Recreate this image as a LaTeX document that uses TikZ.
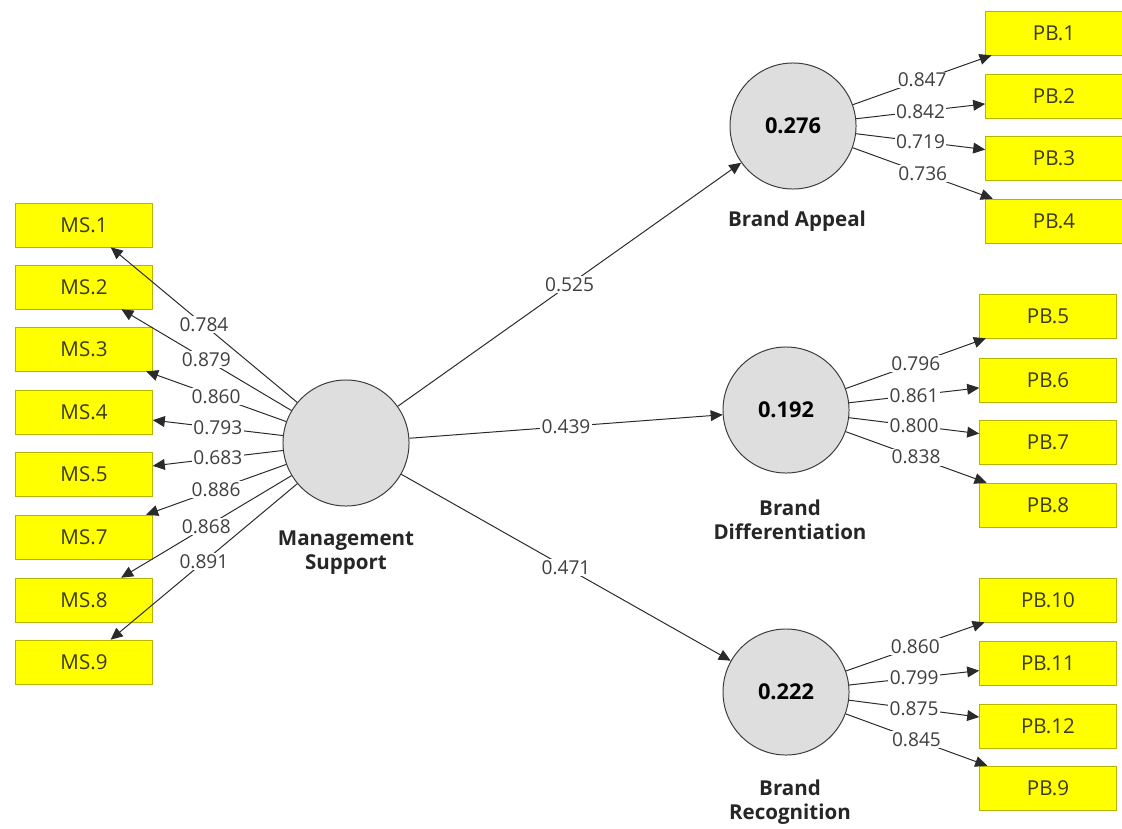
\documentclass[tikz,border=0pt]{standalone}
\usepackage{fontspec}
\setmainfont{Open Sans}
\usepackage{tikz}
\usetikzlibrary{arrows.meta}
\definecolor{boxyellow}{HTML}{FFFF00}
\definecolor{boxline}{HTML}{B5B500}
\definecolor{boxtext}{HTML}{3A3A14}
\definecolor{circlegray}{HTML}{DEDEDE}
\definecolor{circleline}{HTML}{3C3C3C}
\definecolor{linkgray}{HTML}{2A2A2A}
\definecolor{numgray}{HTML}{404040}

\begin{document}
\begin{tikzpicture}[
 x=0.025cm,y=-0.025cm,
 font=\fontsize{13.6}{15}\selectfont,
 indicator/.style={draw=boxline,fill=boxyellow,text=boxtext,minimum width=3.425cm,minimum height=1.1cm,inner sep=0pt,font=\fontsize{14.6}{16}\selectfont},
 construct/.style={circle,draw=circleline,line width=0.7pt,fill=circlegray,minimum size=3.15cm,inner sep=0pt,font=\fontsize{15.5}{17}\selectfont\bfseries},
 lvtitle/.style={align=center,font=\fontsize{14.6}{17}\selectfont\bfseries,text=black!85},
 arr/.style={-{Triangle[length=3mm,width=2.7mm]},draw=linkgray,line width=0.7pt},
 load/.style={fill=white,inner sep=1pt,text=numgray}
]
\path[use as bounding box,fill=white] (0,0) rectangle (1122,828);

% indicators of management support
\node[indicator] (ms1) at (84,225) {MS.1};
\node[indicator] (ms2) at (84,287) {MS.2};
\node[indicator] (ms3) at (84,349) {MS.3};
\node[indicator] (ms4) at (84,412) {MS.4};
\node[indicator] (ms5) at (84,474) {MS.5};
\node[indicator] (ms7) at (84,537) {MS.7};
\node[indicator] (ms8) at (84,600) {MS.8};
\node[indicator] (ms9) at (84,662) {MS.9};

% indicators of the brand constructs
\node[indicator] (pb1) at (1054,33) {PB.1};
\node[indicator] (pb2) at (1054,96) {PB.2};
\node[indicator] (pb3) at (1054,158) {PB.3};
\node[indicator] (pb4) at (1054,221) {PB.4};
\node[indicator] (pb5) at (1048,316) {PB.5};
\node[indicator] (pb6) at (1048,380) {PB.6};
\node[indicator] (pb7) at (1048,442) {PB.7};
\node[indicator] (pb8) at (1048,505) {PB.8};
\node[indicator] (pb10) at (1048,600) {PB.10};
\node[indicator] (pb11) at (1048,663) {PB.11};
\node[indicator] (pb12) at (1048,726) {PB.12};
\node[indicator] (pb9) at (1048,788) {PB.9};

% latent variables
\node[construct] (mgt) at (346,443) {};
\node[lvtitle] (mgtname) at (346,553) {Management\\Support};
\node[construct] (ba) at (793,126) {0.276};
\node[lvtitle] (baname) at (797,221) {Brand Appeal};
\node[construct] (bd) at (786,410) {0.192};
\node[lvtitle] (bdname) at (790,520) {Brand\\Differentiation};
\node[construct] (br) at (786,692) {0.222};
\node[lvtitle] (brname) at (790,802) {Brand\\Recognition};

% outer loadings
\draw[arr] (mgt)-- node[load]{0.784} (ms1);
\draw[arr] (mgt)-- node[load]{0.879} (ms2);
\draw[arr] (mgt)-- node[load]{0.860} (ms3);
\draw[arr] (mgt)-- node[load]{0.793} (ms4);
\draw[arr] (mgt)-- node[load]{0.683} (ms5);
\draw[arr] (mgt)-- node[load]{0.886} (ms7);
\draw[arr] (mgt)-- node[load]{0.868} (ms8);
\draw[arr] (mgt)-- node[load]{0.891} (ms9);

\draw[arr] (ba)-- node[load]{0.847} (pb1);
\draw[arr] (ba)-- node[load]{0.842} (pb2);
\draw[arr] (ba)-- node[load]{0.719} (pb3);
\draw[arr] (ba)-- node[load]{0.736} (pb4);
\draw[arr] (bd)-- node[load]{0.796} (pb5);
\draw[arr] (bd)-- node[load]{0.861} (pb6);
\draw[arr] (bd)-- node[load]{0.800} (pb7);
\draw[arr] (bd)-- node[load]{0.838} (pb8);
\draw[arr] (br)-- node[load]{0.860} (pb10);
\draw[arr] (br)-- node[load]{0.799} (pb11);
\draw[arr] (br)-- node[load]{0.875} (pb12);
\draw[arr] (br)-- node[load]{0.845} (pb9);

% path coefficients
\draw[arr] (mgt)-- node[load]{0.525} (ba);
\draw[arr] (mgt)-- node[load]{0.439} (bd);
\draw[arr] (mgt)-- node[load]{0.471} (br);
\end{tikzpicture}
\end{document}
